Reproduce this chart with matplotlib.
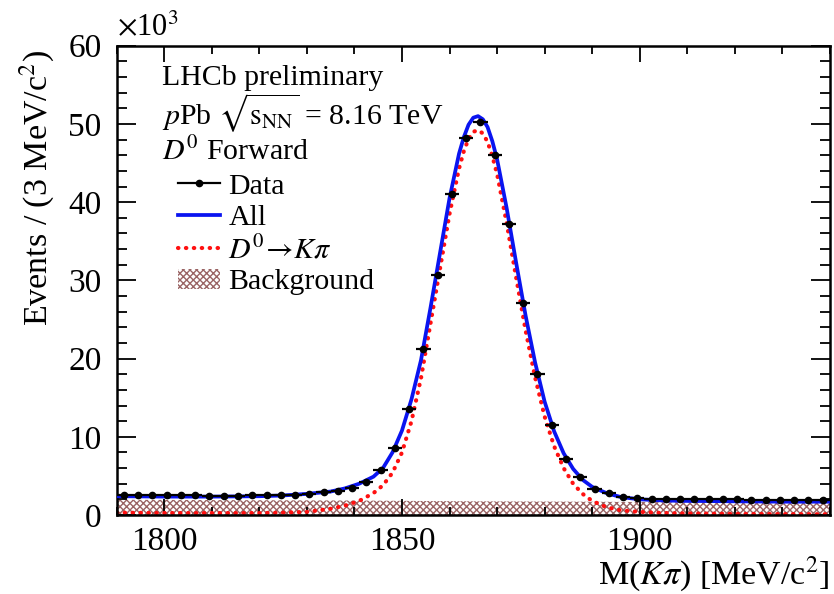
import matplotlib

matplotlib.use("Agg")

import matplotlib.pyplot as plt
import numpy as np
from matplotlib.lines import Line2D
from matplotlib.patches import Patch
from matplotlib.ticker import MultipleLocator

plt.rcParams["font.family"] = ["Liberation Serif", "DejaVu Serif"]
plt.rcParams["mathtext.fontset"] = "stix"
plt.rcParams["hatch.linewidth"] = 1.0

# D0 -> K pi mass spectrum, counts in units of 10^3 per 3 MeV bin
bin_width = 3.0
bin_centers = np.arange(1791.5, 1940.0, bin_width)
counts = [
    2.55, 2.55, 2.5, 2.5, 2.5, 2.5, 2.45, 2.45, 2.45, 2.5, 2.5,
    2.5, 2.6, 2.7, 2.9, 3.1, 3.5, 4.2, 5.75, 8.6, 13.6, 21.2, 30.65,
    41.1, 48.2, 50.3, 46.0, 37.2, 27.1, 18.0, 11.5, 7.1, 4.9, 3.3,
    2.8, 2.35, 2.2,
    2.1, 2.05, 2.05, 2.0, 2.0, 2.0, 2.0, 1.95, 1.95, 1.95, 1.95, 1.95, 1.95,
]

# fit curves
curve_mass = [
    1790, 1800, 1810, 1820, 1825, 1830, 1835, 1838, 1841, 1844, 1846, 1848,
    1850, 1852, 1854, 1856, 1858, 1860, 1862, 1863, 1864, 1865, 1866, 1867,
    1868, 1869, 1870, 1872, 1874, 1876, 1878, 1880, 1882, 1884, 1886, 1888,
    1890, 1893, 1896, 1900, 1905, 1910, 1920, 1930, 1940,
]
fit_all = [
    2.4, 2.35, 2.35, 2.4, 2.5, 2.7, 3.0, 3.4, 4.0, 4.9, 6.0, 8.0,
    10.8, 14.8, 19.8, 26.5, 33.5, 40.5, 46.2, 48.3, 49.9, 50.8, 51.0, 50.6,
    49.6, 47.8, 45.5, 39.3, 32.3, 25.5, 19.5, 14.5, 10.7, 7.9, 5.9, 4.5,
    3.6, 2.8, 2.3, 2.0, 1.85, 1.8, 1.75, 1.7, 1.7,
]
fit_signal = [
    0.3, 0.25, 0.25, 0.25, 0.3, 0.4, 0.8, 1.2, 1.8, 2.8, 3.8, 5.4,
    8.0, 12.0, 17.5, 24.5, 31.5, 38.5, 44.3, 46.5, 48.1, 49.0, 49.2, 48.8,
    47.7, 45.9, 43.6, 37.4, 30.4, 23.6, 17.6, 12.6, 8.8, 6.0, 4.0, 2.7,
    1.8, 1.0, 0.6, 0.4, 0.25, 0.2, 0.15, 0.12, 0.1,
]
bkg_mass = [1790, 1815, 1840, 1865, 1890, 1915, 1940]
fit_bkg = [1.95, 1.9, 1.85, 1.75, 1.7, 1.6, 1.55]

blue = "#0a14f0"
red = "#ff1010"
hatch_col = "#9a6464"
dots = (0, (0.1, 1.8))

fig = plt.figure(figsize=(8.34, 5.94), dpi=100)
ax = fig.add_axes([0.140, 0.133, 0.855, 0.790])

ax.fill_between(bkg_mass, 0, fit_bkg, facecolor="none", edgecolor=hatch_col,
                hatch="xxxxx", linewidth=0, zorder=1)
ax.plot(curve_mass, fit_signal, color=red, lw=3.0, ls=dots,
        dash_capstyle="round", zorder=2)
ax.plot(curve_mass, fit_all, color=blue, lw=2.7, zorder=3)
ax.errorbar(bin_centers, counts, xerr=bin_width / 2,
            yerr=np.sqrt(np.array(counts) * 1000) / 1000,
            fmt="o", color="black", ms=4.5, elinewidth=1.6, capsize=0, zorder=4)

ax.set_xlim(1790, 1940)
ax.set_ylim(0, 60)
ax.xaxis.set_major_locator(MultipleLocator(50))
ax.xaxis.set_minor_locator(MultipleLocator(10))
ax.yaxis.set_major_locator(MultipleLocator(10))
ax.yaxis.set_minor_locator(MultipleLocator(2))
ax.tick_params(which="both", direction="in", top=True, right=True, width=1.3,
               labelsize=24)
ax.tick_params(axis="x", which="major", length=11.5, pad=8)
ax.tick_params(axis="x", which="minor", length=5.8)
ax.tick_params(axis="y", which="major", length=13.5, pad=11)
ax.tick_params(axis="y", which="minor", length=7)
for s in ax.spines.values():
    s.set_linewidth(1.8)

ax.text(0.0, 1.008, r"$\times$10$^{3}$", transform=ax.transAxes, fontsize=22,
        ha="left", va="bottom")
ax.text(-0.112, 0.99, r"Events / (3 MeV/c$^{2}$)", transform=ax.transAxes,
        fontsize=24.5, rotation=90, ha="center", va="top")
ax.text(1.0, -0.125, r"M($K\pi$) [MeV/c$^{2}$]", transform=ax.transAxes,
        fontsize=24.5, ha="right", va="center")

ax.text(0.063, 0.932, "LHCb preliminary", transform=ax.transAxes, fontsize=21.5,
        va="center")
ax.text(0.063, 0.857, r"$p$Pb $\sqrt{\mathrm{s}_{\mathrm{NN}}}$ = 8.16 TeV",
        transform=ax.transAxes, fontsize=21.5, va="center")
ax.text(0.063, 0.775, r"$D^{0}$ Forward", transform=ax.transAxes, fontsize=21.5,
        va="center")

handles = [
    Line2D([], [], color="black", marker="o", ms=4.5, lw=1.6),
    Line2D([], [], color=blue, lw=2.7),
    Line2D([], [], color=red, lw=3.0, ls=dots, dash_capstyle="round"),
    Patch(facecolor="none", edgecolor=hatch_col, hatch="xxxxx", linewidth=0),
]
labels = ["Data", "All", r"$D^{0}\!\rightarrow\! K\pi$", "Background"]
ax.legend(handles, labels, loc="upper left", bbox_to_anchor=(0.0855, 0.729),
          frameon=False, fontsize=21.5, handlelength=1.4, handletextpad=0.3,
          labelspacing=0.15, borderpad=0, borderaxespad=0)

fig.savefig("out.png", dpi=100)
plt.close(fig)
